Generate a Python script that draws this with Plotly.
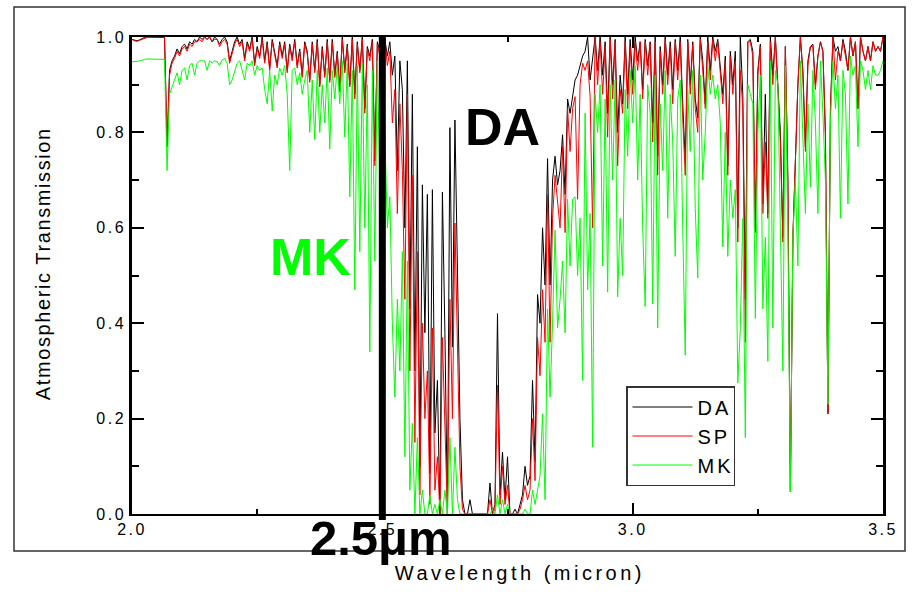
import plotly.graph_objects as go

# Wavelength sampling grid (micron), 2.0 .. 3.5 in 0.005 steps
WAVELENGTH = [round(2.0 + 0.005 * i, 3) for i in range(301)]

DA = [
    .995, .993, .992, .994, .997, .999, 1.0, 1.0, 1.0, 1.0,
    1.0, 1.0, 1.0, .999, .77, .93, .95, .96, .975, .965,
    .98, .985, .975, .99, .985, .995, .99, 1.0, .995, 1.0,
    .995, 1.0, .99, 1.0, .995, .985, .995, 1.0, .99, .95,
    .97, .99, 1.0, .985, .995, .955, .99, .975, 1.0, .945,
    .98, .96, 1.0, .95, .99, .935, .995, .97, .94, .99,
    .96, .99, .93, .985, .955, .995, .94, .975, .92, .99,
    .97, .91, .99, .93, .995, .90, .98, .92, .995, .91,
    .995, .92, .97, .89, 1.0, .93, .985, .90, 1.0, .88,
    .99, .93, 1.0, .85, .98, .96, .995, .74, .99, .97,
    .97, .995, .96, .99, .92, .96, .72, .95, .89, .60,
    .95, .43, .88, .30, .77, .10, .69, .38, .67, .085,
    .68, .17, .28, .0, .675, .38, .0, .81, .35, .826,
    .55, .20, .03, .0, .0, .03, .0, .0, .0, .0,
    .0, .0, .0, .065, .0, .02, .42, .04, .13, .03,
    .12, .0, .0, .01, .0, .02, .04, .10, .06, .08,
    .28, .11, .46, .40, .60, .48, .745, .48, .70, .75,
    .69, .72, .795, .67, .87, .84, .875, .91, .92, .94,
    .96, .97, 1.0, .91, .95, 1.0, .93, 1.0, .92, .99,
    .84, 1.0, .90, .995, .80, .92, .86, 1.0, .88, .995,
    .91, 1.0, .95, .99, .89, .995, .94, .99, .82, 1.0,
    .75, .98, .90, 1.0, .92, .99, .89, .995, .93, 1.0,
    .86, .74, .995, .90, .99, .87, .83, 1.0, .95, .86,
    1.0, .93, 1.0, .97, .995, .94, .88, .96, .73, .97,
    .90, .97, .60, 1.0, .88, .45, .99, .995, .97, .60,
    .93, .985, .65, .88, .63, 1.0, .92, 1.0, .91, .80,
    .58, .98, .70, .05, .58, .75, .90, 1.0, .93, .77,
    .95, .98, .985, .90, .96, .99, .97, .80, .21, .85,
    1.0, .97, .98, .95, .995, .97, .93, 1.0, .96, .99,
    .85, 1.0, .97, .95, .98, .95, .99, .97, .98, .97,
    1.0,
]

SP = [
    .995, .992, .991, .993, .996, .998, .999, 1.0, 1.0, 1.0,
    1.0, 1.0, 1.0, .998, .78, .92, .945, .955, .97, .96,
    .975, .98, .97, .985, .98, .99, .99, .995, .99, 1.0,
    .995, 1.0, .99, .995, .995, .98, .99, .995, .985, .945,
    .965, .985, .995, .98, .99, .95, .985, .97, .995, .94,
    .975, .955, .995, .945, .985, .93, .99, .96, .935, .985,
    .955, .985, .925, .98, .95, .99, .935, .97, .915, .985,
    .965, .905, .985, .925, .99, .895, .975, .915, .99, .905,
    .99, .915, .965, .885, .995, .925, .98, .895, .995, .87,
    .985, .925, .995, .84, .975, .95, .99, .73, .985, .96,
    .98, 1.0, .94, .97, .82, .89, .63, .86, .72, .45,
    .88, .30, .71, .15, .55, .04, .40, .20, .30, .02,
    .39, .05, .12, .0, .37, .16, .0, .45, .20, .61,
    .35, .10, .01, .0, .0, .0, .0, .0, .0, .0,
    .0, .0, .0, .03, .0, .01, .27, .02, .10, .02,
    .06, .0, .0, .0, .0, .01, .03, .06, .03, .05,
    .20, .07, .37, .29, .47, .36, .67, .36, .62, .71,
    .65, .60, .77, .59, .85, .76, .85, .875, .66, .90,
    .945, .93, .95, .875, .60, 1.0, .90, .99, .88, .98,
    .79, .995, .87, .99, .73, .89, .84, .99, .85, .98,
    .88, .99, .93, .99, .87, .99, .92, .985, .78, .99,
    .71, .97, .88, .995, .90, .98, .86, .99, .91, .99,
    .83, .71, .99, .88, .985, .85, .80, .995, .93, .85,
    .99, .91, .995, .95, .99, .92, .86, .95, .71, .96,
    .88, .95, .57, .93, .85, .36, .99, .99, .96, .59,
    .92, .98, .63, .78, .62, .99, .90, 1.0, .90, .78,
    .57, .98, .70, .046, .58, .74, .90, 1.0, .92, .76,
    .94, .98, .98, .89, .96, .99, .97, .79, .21, .84,
    1.0, .91, .97, .95, .99, .96, .93, 1.0, .96, .99,
    .85, 1.0, .97, .95, .98, .95, .99, .97, .98, .97,
    1.0,
]

MK = [
    .948, .948, .949, .950, .952, .953, .954, .954, .954, .954,
    .954, .954, .954, .953, .72, .88, .895, .91, .925, .90,
    .93, .935, .91, .94, .945, .92, .945, .95, .95, .95,
    .93, .95, .945, .95, .948, .94, .952, .955, .945, .90,
    .91, .93, .945, .95, .93, .91, .945, .94, .95, .92,
    .94, .93, .935, .89, .86, .93, .845, .92, .90, .935,
    .92, .94, .88, .72, .93, .935, .90, .925, .88, .91,
    .93, .80, .91, .785, .93, .80, .90, .82, .935, .765,
    .93, .87, .94, .86, .95, .79, .945, .665, .93, .47,
    .94, .55, .945, .60, .90, .34, .93, .53, .95, .70,
    .70, .80, .60, .665, .40, .245, .45, .30, .55, .12,
    .53, .05, .19, .0, .16, .0, .05, .0, .0, .04,
    .0, .02, .0, .03, .0, .05, .0, .16, .0, .14,
    .03, .0, .0, .0, .0, .0, .0, .0, .0, .0,
    .0, .0, .0, .0, .01, .0, .04, .0, .03, .0,
    .02, .0, .0, .0, .0, .0, .0, .01, .0, .0,
    .05, .02, .05, .08, .21, .03, .43, .245, .40, .595,
    .39, .45, .53, .38, .66, .52, .66, .665, .50, .62,
    .28, .84, .47, .63, .14, .88, .80, .90, .52, .87,
    .465, .90, .70, .91, .455, .62, .50, .89, .75, .93,
    .82, .94, .70, .88, .60, .435, .90, .84, .44, .92,
    .39, .86, .72, .93, .62, .88, .78, .54, .87, .91,
    .60, .333, .89, .76, .93, .64, .495, .92, .70, .80,
    .94, .88, .92, .87, .90, .82, .56, .80, .54, .70,
    .62, .68, .275, .39, .62, .16, .90, .88, .86, .41,
    .80, .92, .43, .58, .32, .95, .39, .93, .90, .60,
    .30, .94, .60, .046, .58, .70, .52, .95, .80, .63,
    .86, .685, .93, .82, .63, .95, .84, .70, .23, .82,
    .95, .85, .92, .62, .93, .88, .65, .96, .92, .94,
    .77, .95, .93, .89, .93, .89, .94, .92, .92, .93,
    .95,
]

SERIES = [("DA", DA, "#000000"), ("SP", SP, "#ff0000"), ("MK", MK, "#00ff00")]
X_TICKS = [2.0, 2.5, 3.0, 3.5]
Y_TICKS = [0.0, 0.2, 0.4, 0.6, 0.8, 1.0]
MARKER_WL = 2.5

FONT = "Liberation Sans, Arial, sans-serif"

fig = go.Figure()
for name, vals, col in SERIES:
    fig.add_trace(go.Scatter(
        x=WAVELENGTH, y=vals, mode="lines", name=name, legendgroup=name,
        line=dict(color=col, width=1),
    ))

axis_common = dict(
    showline=True, linecolor="#000", mirror="allticks", ticks="inside",
    tickwidth=2, tickcolor="#000", showgrid=False, zeroline=False,
    tickfont=dict(family=FONT, size=16, color="#000"), tickformat=".1f",
)
fig.update_xaxes(range=[2.0, 3.5], tickvals=X_TICKS, linewidth=2, ticklen=11,
                 minor=dict(dtick=0.25, tick0=2.0, ticklen=5, tickwidth=2, ticks="inside", tickcolor="#000"),
                 **axis_common)
fig.update_yaxes(range=[0, 1], tickvals=Y_TICKS, linewidth=2.5, ticklen=12,
                 minor=dict(dtick=0.1, tick0=0, ticklen=7, tickwidth=2, ticks="inside", tickcolor="#000"),
                 **axis_common)

L, R, T, B = 132, 30, 37, 78
PW, PH = 913 - L - R, 592 - T - B

def px(xp):
    return (xp - L) / PW

def py(yp):
    return (592 - B - yp) / PH

fig.update_layout(
    width=913, height=592,
    margin=dict(l=L, r=R, t=T, b=B, pad=0),
    paper_bgcolor="white", plot_bgcolor="white",
    font=dict(family=FONT, color="#000"),
    showlegend=True,
    legend=dict(x=px(626), y=py(386), xanchor="left", yanchor="top",
                bordercolor="#333", borderwidth=1.5, bgcolor="white",
                font=dict(family=FONT, size=20, color="#000"),
                itemwidth=60, tracegroupgap=0),
    shapes=[
        dict(type="rect", xref="paper", yref="paper",
             x0=px(14), x1=px(905), y0=py(551), y1=py(7),
             line=dict(color="#333", width=1.5), fillcolor="rgba(0,0,0,0)", layer="below"),
        dict(type="line", xref="x", yref="paper", x0=MARKER_WL, x1=MARKER_WL,
             y0=py(520), y1=py(35), line=dict(color="#000", width=7)),
    ],
    annotations=[
        dict(text="Wavelength (micron)", xref="paper", yref="paper", x=px(520), y=py(573),
             showarrow=False, xanchor="center", yanchor="middle",
             font=dict(family=FONT, size=20, color="#000")),
        dict(text="Atmospheric Transmission", xref="paper", yref="paper", x=px(43), y=py(264),
             showarrow=False, textangle=-90, xanchor="center", yanchor="middle",
             font=dict(family=FONT, size=20, color="#000")),
        dict(text="<b>DA</b>", xref="paper", yref="paper", x=px(502), y=py(127),
             showarrow=False, xanchor="center", yanchor="middle",
             font=dict(family=FONT, size=52, color="#000")),
        dict(text="<b>MK</b>", xref="paper", yref="paper", x=px(310), y=py(257),
             showarrow=False, xanchor="center", yanchor="middle",
             font=dict(family=FONT, size=52, color="#00ff00")),
        dict(text="<b>2.5μm</b>", xref="paper", yref="paper", x=px(381), y=py(538),
             showarrow=False, xanchor="center", yanchor="middle",
             font=dict(family=FONT, size=49, color="#000")),
    ],
)

post = """
var gd = document.getElementById('{plot_id}');
function spacing(){
  gd.querySelectorAll('.xtick text, .ytick text').forEach(function(t){ t.style.letterSpacing='2.5px'; });
  gd.querySelectorAll('.legendtext').forEach(function(t){ t.style.letterSpacing='3px'; });
  var a0 = gd.querySelector('g.annotation[data-index="0"] text');
  if (a0) a0.style.letterSpacing='3.5px';
  var a1 = gd.querySelector('g.annotation[data-index="1"] text');
  if (a1) a1.style.letterSpacing='1.6px';
}
spacing();
if (gd.on) gd.on('plotly_afterplot', spacing);
"""

fig.write_html("out.html", config={"displayModeBar": False}, post_script=post)
